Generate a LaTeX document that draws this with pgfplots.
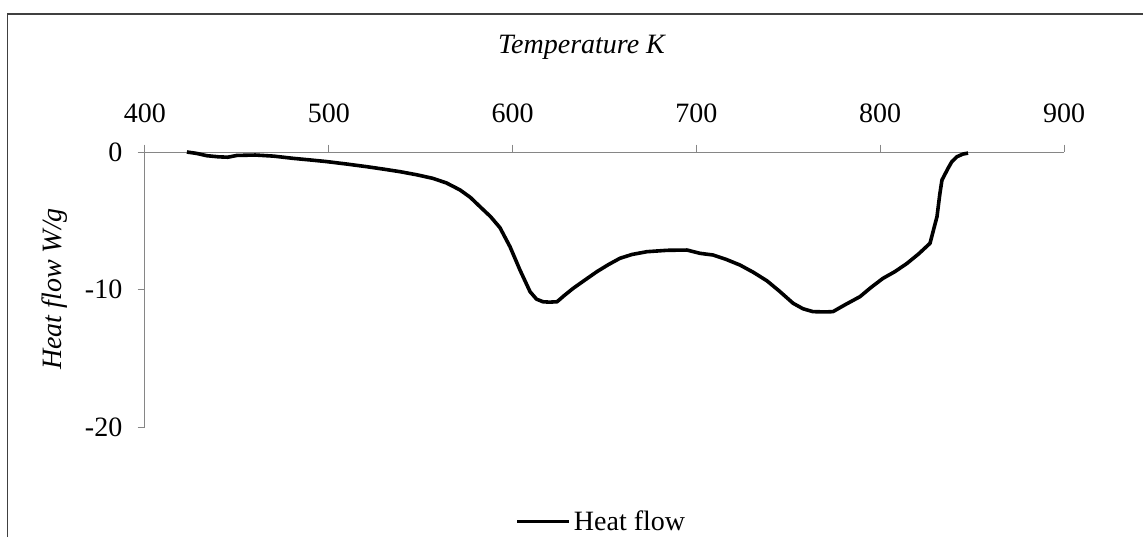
\documentclass[border=0pt]{standalone}
\usepackage{fontspec}
\setmainfont{Liberation Serif}
\usepackage{pgfplots}
\pgfplotsset{compat=1.18}
\definecolor{axgray}{RGB}{134,134,134}
\definecolor{framegray}{RGB}{64,64,64}
\begin{document}
\begin{tikzpicture}
\useasboundingbox (-108.75pt,-82.5pt) rectangle (748.5pt,320.25pt);
\draw[framegray, line width=1.1pt] (-103.1pt,-82.5pt) -- (-103.1pt,309.75pt) -- (748.5pt,309.75pt);
\begin{axis}[
  scale only axis,
  width=689.25pt, height=206.25pt,
  xmin=400, xmax=900, ymin=-20, ymax=0,
  axis x line*=top, axis y line*=left,
  axis line style={axgray, line width=0.75pt},
  tick style={axgray, line width=0.75pt},
  tick align=outside,
  major tick length=5.5pt,
  xtick={400,500,600,700,800,900},
  xticklabels={400,500,600,700,800,900},
  ytick={-20,-10,0},
  yticklabels={-20,-10,0},
  font=\fontsize{21}{25}\selectfont,
  xticklabel style={anchor=base, yshift=17pt},
  yticklabel style={anchor=east, xshift=-8pt},
  legend style={at={(0.497,-0.344)}, anchor=center, draw=none, fill=none,
    font=\fontsize{21}{25}\selectfont},
  legend image code/.code={\draw[#1, line width=2.7pt] (0pt,0pt) -- (39pt,0pt);},
  clip=false,
]
\addplot[black, line width=2.7pt, line join=round] coordinates {
(422.8,0) (428,-0.1) (433.7,-0.27) (440,-0.35) (445,-0.38) (450,-0.25)
(460,-0.22) (470,-0.3) (480.5,-0.46) (490,-0.58) (499,-0.70) (510,-0.88)
(520.8,-1.07) (530,-1.25) (538.7,-1.43) (548,-1.66) (556.7,-1.92) (564,-2.25)
(571.4,-2.76) (577,-3.3) (582.3,-3.98) (588,-4.7) (593.1,-5.5) (598.6,-6.89)
(604,-8.58) (609.5,-10.16) (613,-10.7) (616.5,-10.89) (620,-10.92) (624.2,-10.89)
(628,-10.45) (632.9,-9.92) (640,-9.25) (645.9,-8.7) (652,-8.2) (658.4,-7.73)
(665,-7.45) (673.1,-7.25) (684,-7.15) (694.9,-7.13) (702,-7.37) (709,-7.49)
(716,-7.8) (723.7,-8.22) (731,-8.75) (738.4,-9.37) (745,-10.1) (752.6,-11.0)
(758,-11.4) (763.4,-11.61) (770,-11.63) (774.3,-11.61) (781,-11.1) (789,-10.52)
(795,-9.85) (801.5,-9.19) (808,-8.7) (814.6,-8.1) (821,-7.4) (827.1,-6.64)
(830.9,-4.7) (832.5,-3.0) (833.6,-2.04) (836.9,-1.19) (839,-0.7) (841.8,-0.34)
(845,-0.15) (847.8,-0.08)
};
\addlegendentry{Heat flow}
\end{axis}
\node[anchor=base, font=\fontsize{21}{25}\selectfont\itshape] at (327.4pt,280.5pt) {Temperature K};
\node[rotate=90, anchor=center, font=\fontsize{21}{25}\selectfont\itshape] at (-67.5pt,103.5pt) {Heat flow W/g};
\end{tikzpicture}
\end{document}
